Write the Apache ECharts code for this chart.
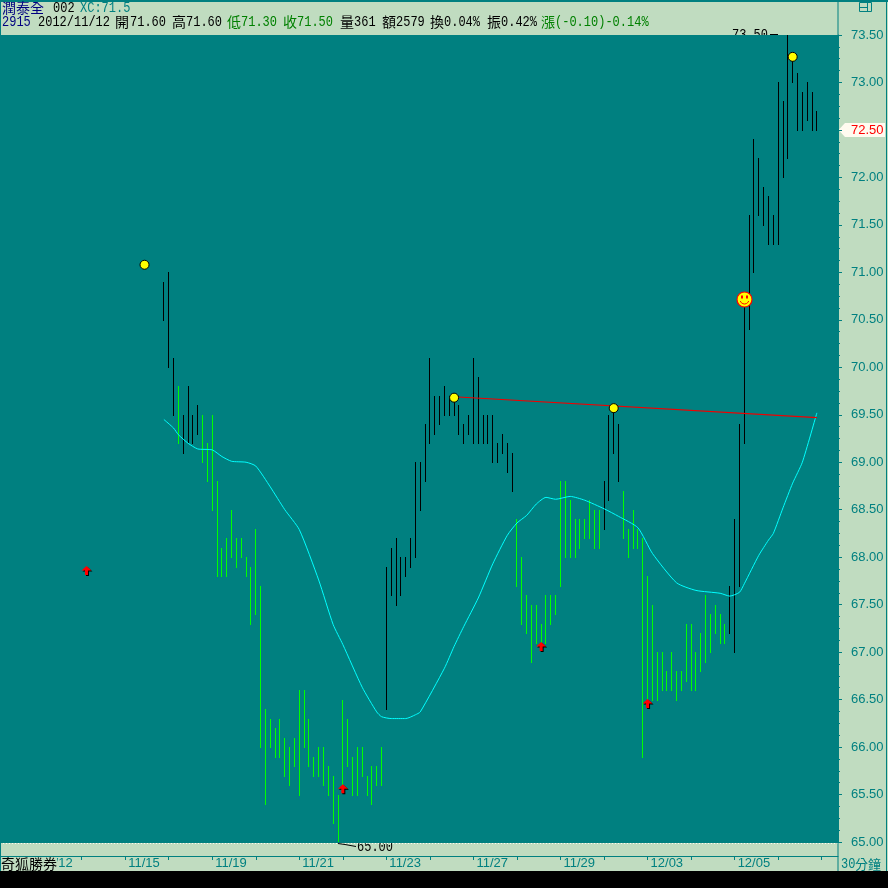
<!DOCTYPE html>
<html>
<head>
<meta charset="utf-8">
<style>
html,body{margin:0;padding:0;background:#000;}
#main{width:888px;height:888px;}
</style>
<script src="https://cdn.jsdelivr.net/npm/echarts@6/dist/echarts.min.js"></script>
</head>
<body>
<div id="main"></div>
<script>
// bar data, one entry per 30 minute bar
var highs = [70.9,71.0,70.1,69.8,69.5,69.8,69.5,69.6,69.5,69.2,69.5,68.8,68.1,68.2,68.5,68.2,68.2,68.0,67.9,68.3,
  67.7,66.4,66.3,66.2,66.3,66.1,66.0,66.1,66.6,66.6,66.3,65.9,66.0,66.0,65.8,65.7,65.5,66.5,66.3,65.9,
  66.0,66.0,65.7,65.8,65.8,66.0,67.9,68.1,68.2,68.0,68.0,68.2,69.0,69.0,69.4,70.1,69.7,69.7,69.8,69.7,
  69.7,69.6,69.4,69.5,70.1,69.9,69.5,69.5,69.5,69.2,69.3,69.2,69.1,68.4,68.0,67.6,67.5,67.5,67.3,67.6,
  67.6,67.6,68.8,68.8,68.6,68.4,68.4,68.4,68.6,68.5,68.5,68.8,69.5,69.6,69.4,68.7,68.3,68.5,68.3,68.2,
  67.8,67.5,67.0,67.0,66.8,67.0,66.8,66.8,67.3,67.3,67.0,67.2,67.6,67.4,67.5,67.4,67.3,67.7,68.4,69.4,
  70.7,71.6,72.4,72.2,71.9,71.8,71.6,73.0,72.8,73.5,73.3,73.1,72.9,73.0,72.9,72.7];
var lows = [70.5,70.0,69.5,69.2,69.1,69.2,69.2,69.3,69.0,68.8,68.5,67.8,67.8,67.8,68.0,67.9,68.0,67.8,67.3,67.4,
  66.0,65.4,66.0,65.9,65.9,65.7,65.6,65.8,65.5,66.0,65.8,65.7,65.7,65.6,65.5,65.2,65.0,65.6,65.8,65.5,
  65.5,65.7,65.5,65.4,65.6,65.6,66.4,67.6,67.5,67.6,67.8,67.9,68.0,68.5,68.8,69.2,69.3,69.4,69.5,69.5,
  69.5,69.3,69.2,69.3,69.2,69.2,69.2,69.2,69.0,69.0,69.1,68.9,68.7,67.7,67.3,67.2,66.9,67.1,67.1,67.1,
  67.3,67.4,67.7,68.0,68.0,68.0,68.1,68.2,68.2,68.1,68.1,68.3,68.6,69.1,68.8,68.2,68.0,68.1,68.1,65.9,
  66.5,66.5,66.5,66.6,66.6,66.6,66.5,66.6,66.7,66.6,66.6,66.8,66.9,67.0,67.2,67.1,67.1,67.2,67.0,67.7,
  69.2,70.4,71.0,71.6,71.5,71.3,71.3,71.3,72.0,72.2,73.0,72.5,72.5,72.6,72.5,72.5];
// 1 = black bar, 0 = green bar
var upFlags = [1,1,1,0,1,1,1,1,0,0,0,0,0,0,0,0,0,0,0,0,
  0,0,0,0,0,0,0,0,0,0,0,0,0,0,0,0,0,0,0,0,
  0,0,0,0,0,0,1,1,1,1,1,1,1,1,1,1,1,1,1,1,
  1,1,1,1,1,1,1,1,1,1,1,1,1,0,0,0,0,0,0,0,
  0,0,0,0,0,0,0,0,0,0,0,1,1,1,1,0,0,0,0,0,
  0,0,0,0,0,0,0,0,0,0,0,0,0,0,0,0,0,1,1,1,
  1,1,1,1,1,1,1,1,1,1,1,1,1,1,1,1];

// moving average, read at these bar positions
var maIdx = [0,2,3,5,7,10,12,14,17,19,22,25,28,32,35,37,41,44,45,47,50,52,53,58,60,62,65,68,71,73,75,77,79,81,84,87,91,94,98,101,106,110,115,117,119,120,123,125,126,128,130,132,135];
var maVal = [69.45,69.36,69.29,69.20,69.14,69.13,69.06,69.01,69.00,68.96,68.74,68.50,68.29,67.76,67.29,67.08,66.63,66.37,66.32,66.30,66.30,66.34,66.37,66.83,67.06,67.27,67.57,67.93,68.23,68.36,68.44,68.56,68.63,68.61,68.64,68.60,68.51,68.43,68.31,68.04,67.73,67.65,67.62,67.59,67.63,67.72,68.02,68.18,68.25,68.52,68.78,69.00,69.52];

var trendIdx = [60,135];
var trendVal = [69.69,69.47];

var dotIdx = [-4,60,93,130];
var dotVal = [71.08,69.68,69.57,73.27];
var arrowIdx = [-16,37,78,100];
var arrowVal = [67.86,65.56,67.06,66.46];
var smileIdx = 120;
var smileVal = 70.72;

var lastClose = 72.5;
var xTickIdx = [-26,-17,-8,1,10,19,28,37,46,55,64,73,82,91,100,109,118,127,136];
var xLabelIdx = [-26,-8,10,28,46,64,82,100,118];
var xLabels = ['11/12','11/15','11/19','11/21','11/23','11/27','11/29','12/03','12/05'];

var TEAL = '#008080', PANEL = '#C0DCC0', GREEN = '#00FF00';
var AXIS_FONT = 'Liberation Sans';
var CJK = '"Noto Sans CJK TC",sans-serif';
var MONO = '"Liberation Mono",monospace';

function txt(x, y, s, color, font, z, scaleY) {
  return {type:'text', x:x, y:y, z:z||1, scaleY:scaleY||1, silent:true,
    style:{text:s, fill:color, font:font, verticalAlign:'middle'}};
}
function box(x, y, w, h, color, z) {
  return {type:'rect', z:z||1, silent:true, shape:{x:x,y:y,width:w,height:h}, style:{fill:color}};
}
function seg(x1, y1, x2, y2, color, z, dash) {
  return {type:'line', z:z||3, silent:true, shape:{x1:x1,y1:y1,x2:x2,y2:y2},
    style:{stroke:color, lineWidth:1, lineDash:dash||null}};
}

var f12 = '12px '+MONO, f14 = '14px '+CJK;
var headerRow1 = [
  txt(2,8,'潤泰全','#000080',f14), txt(53,8,'002','#000',f12,1,1.2), txt(80,8,'XC:71.5',TEAL,f12,1,1.2)
];
var headerRow2 = [
  [2,'2915','#000080'],[38,'2012/11/12','#000'],
  [115,'開','#000'],[130,'71.60','#000'],[172,'高','#000'],[186,'71.60','#000'],
  [227,'低','#008000'],[241,'71.30','#008000'],[283,'收','#008000'],[297,'71.50','#008000'],
  [340,'量','#000'],[354,'361','#000'],[382,'額','#000'],[396,'2579','#000'],
  [430,'換','#000'],[444,'0.04%','#000'],[487,'振','#000'],[501,'0.42%','#000'],
  [541,'漲','#008000'],[555,'(-0.10)-0.14%','#008000']
].map(function (t) {
  return /[\u4e00-\u9fff]/.test(t[1]) ? txt(t[0],22,t[1],t[2],f14) : txt(t[0],22,t[1],t[2],f12,1,1.2);
});

var option = {
  animation:false,
  backgroundColor:PANEL,
  grid:{left:0, top:35, width:838, height:807},
  xAxis:{
    type:'value', min:-33.88, max:139.37, offset:14,
    splitLine:{show:false},
    axisLine:{show:true, onZero:false, lineStyle:{color:TEAL}},
    axisTick:{show:true, length:4, customValues:xTickIdx, lineStyle:{color:TEAL}},
    axisLabel:{
      customValues:xLabelIdx, align:'left', margin:1, color:TEAL,
      fontFamily:AXIS_FONT, fontSize:13, padding:[0,0,0,3],
      formatter:function (v) { return xLabels[xLabelIdx.indexOf(v)]; }
    }
  },
  yAxis:{
    type:'value', position:'right', min:65, max:73.5, interval:0.5, z:5,
    splitLine:{show:false},
    axisLine:{show:true, onZero:false, lineStyle:{color:TEAL}},
    axisTick:{show:true, length:4, lineStyle:{color:TEAL}},
    minorTick:{show:true, splitNumber:4, length:2, lineStyle:{color:TEAL}},
    axisLabel:{
      margin:13, color:TEAL, fontFamily:AXIS_FONT, fontSize:13,
      formatter:function (v) { return v === lastClose ? '{cur|'+v.toFixed(2)+'}' : v.toFixed(2); },
      rich:{cur:{color:'#F00', fontFamily:AXIS_FONT, fontSize:13}}
    }
  },
  graphic:[
    // high and low notes sit under the plot rect, it cuts them in half like the original
    txt(732,35,'73.50','#000',f12,0,1.2),
    txt(357,847,'65.00','#000',f12,0,1.2),
    box(0,35,838,808,TEAL,1),
    seg(770,34.5,778,34.5,'#000',0),
    seg(338,843.5,345,844.5,'#000',3), seg(345,844.5,356,846.5,'#000',3),
    seg(0,843.5,838,843.5,'#FFFBF0',1,[1,2]),
    box(0,0,888,2,TEAL,1), box(0,0,1,871,TEAL,1), box(837.5,0,1,871,TEAL,1), box(886,0,1,871,TEAL,1),
    box(0,871,888,17,'#000',20),
    seg(859.5,2.5,871.5,2.5,TEAL), seg(859.5,11.5,871.5,11.5,TEAL), seg(859.5,2.5,859.5,11.5,TEAL),
    seg(871.5,2.5,871.5,11.5,TEAL), seg(859.5,7.5,867.5,7.5,TEAL), seg(867.5,2.5,867.5,11.5,TEAL),
    {type:'text', x:1, y:864, z:10, silent:true, style:{text:'奇狐勝券', fill:'#000', font:'14px '+CJK,
      verticalAlign:'middle', backgroundColor:PANEL}},
    txt(841,864,'30',TEAL,f12,10,1.2),
    txt(855,864,'分鐘',TEAL,'13px '+CJK,10)
  ].concat(headerRow1, headerRow2),
  series:[
    {
      type:'custom', clip:true, z:3,
      data:highs.map(function (h,i) { return [i, lows[i], h, upFlags[i]]; }),
      encode:{x:0, y:[1,2]},
      renderItem:function (params, api) {
        var lo = api.coord([api.value(0), api.value(1)]);
        var hi = api.coord([api.value(0), api.value(2)]);
        var top = Math.round(hi[1]);
        return {type:'rect', shape:{x:Math.floor(lo[0]), y:top, width:1, height:Math.round(lo[1])-top+1},
          style:{fill:api.value(3) ? '#000' : GREEN}};
      }
    },
    {
      type:'line', z:4, showSymbol:false, smooth:0.2, clip:true,
      data:maIdx.map(function (x,i) { return [x, maVal[i]]; }),
      lineStyle:{color:'#00FFFF', width:1}
    },
    {
      type:'line', z:4, showSymbol:false,
      data:trendIdx.map(function (x,i) { return [x, trendVal[i]]; }),
      lineStyle:{color:'#F00000', width:1.2}
    },
    {
      type:'scatter', z:6, symbol:'circle', symbolSize:9,
      data:dotIdx.map(function (x,i) { return [x, dotVal[i]]; }),
      itemStyle:{color:'#FFFF00', borderColor:'#000', borderWidth:1, opacity:1}
    },
    {
      type:'scatter', z:6, symbolSize:[10,9], clip:false,
      symbol:'path://M5 0 L10 4.5 L6.5 4.5 L6.5 9 L3.5 9 L3.5 4.5 L0 4.5 Z',
      data:arrowIdx.map(function (x,i) { return [x, arrowVal[i]]; }),
      itemStyle:{color:'#FF0000', opacity:1, shadowColor:'#000', shadowBlur:0, shadowOffsetX:1, shadowOffsetY:1}
    },
    {
      type:'custom', z:7,
      data:[[smileIdx, smileVal]],
      encode:{x:0, y:1},
      renderItem:function (params, api) {
        var p = api.coord([api.value(0), api.value(1)]);
        var cx = Math.round(p[0])+0.5, cy = Math.round(p[1])+0.5;
        return {type:'group', children:[
          {type:'circle', shape:{cx:cx,cy:cy,r:7.5}, style:{fill:'#FFFF00', stroke:'#F00', lineWidth:1.2}},
          {type:'rect', shape:{x:cx-3.5,y:cy-4,width:2,height:3}, style:{fill:'#F00'}},
          {type:'rect', shape:{x:cx+1.5,y:cy-4,width:2,height:3}, style:{fill:'#F00'}},
          {type:'arc', shape:{cx:cx,cy:cy,r:4.5,startAngle:0.35,endAngle:Math.PI-0.35},
            style:{stroke:'#F00', fill:null, lineWidth:1}}
        ]};
      }
    },
    {
      // white price flag on the right axis
      type:'custom', z:4, clip:false,
      data:[[0, lastClose]],
      encode:{x:0, y:1},
      renderItem:function (params, api) {
        var y = Math.round(api.coord([0, api.value(1)])[1]);
        return {type:'polygon', shape:{points:[[838.5,y],[845,y-7],[885,y-7],[885,y+7],[845,y+7]]},
          style:{fill:'#FFFBF0'}};
      }
    }
  ]
};

echarts.init(document.getElementById('main')).setOption(option);
</script>
</body>
</html>
